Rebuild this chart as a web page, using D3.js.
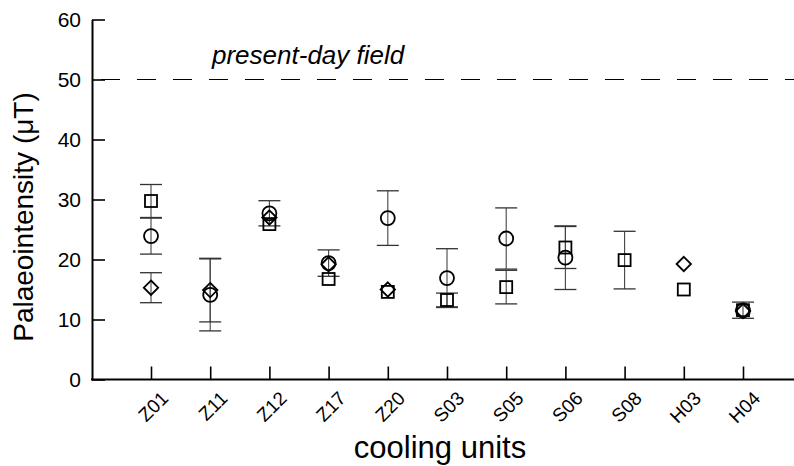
<!DOCTYPE html>
<html>
<head>
<meta charset="utf-8">
<script src="https://cdn.jsdelivr.net/npm/d3@7"></script>
<style>
  html, body { margin: 0; padding: 0; background: #fff; }
  svg { display: block; font-family: "Liberation Sans", Arial, Helvetica, sans-serif; }
</style>
</head>
<body>
<svg id="chart" width="794" height="466"></svg>
<script>
const units = ["Z01","Z11","Z12","Z17","Z20","S03","S05","S06","S08","H03","H04"];
const squares    = [29.75, null, 25.9, 16.75, 14.6, 13.25, 15.4, 22.0, 19.9, 15.0, 11.55];
const squareErr  = [2.75, null, null, null, null, 1.15, 2.8, 3.5, 4.8, null, 1.35];
const circles    = [23.9, 14.1, 27.7, 19.4, 26.9, 16.9, 23.5, 20.3, null, null, 11.5];
const circleErr  = [3.0, 6.0, 2.1, 2.2, 4.55, 4.9, 5.1, 5.3, null, null, null];
const diamonds   = [15.3, 14.9, 27.0, 19.2, 15.0, null, null, null, null, 19.25, 11.4];
const diamondErr = [2.5, 5.3, null, null, null, null, null, null, null, null, null];
const yTicks = [0, 10, 20, 30, 40, 50, 60];
const presentDay = 50;

const svg = d3.select("#chart");
const x0 = 92, xRight = 794;
const x = d3.scalePoint().domain(units).range([151, 743]);
const y = d3.scaleLinear().domain([0, 60]).range([379.5, 19.5]);

// present-day field dashed line
svg.append("line")
  .attr("x1", 101).attr("x2", xRight)
  .attr("y1", y(presentDay)).attr("y2", y(presentDay))
  .attr("stroke", "#000").attr("stroke-width", 1.2)
  .attr("stroke-dasharray", "19,17");
svg.append("text")
  .attr("x", 212).attr("y", 64)
  .attr("font-size", 26).attr("font-style", "italic")
  .text("present-day field");

// Y axis
const yAxis = d3.axisLeft(y).tickValues(yTicks).tickSizeInner(-13).tickSizeOuter(0).tickPadding(11);
const gy = svg.append("g").attr("transform", `translate(${x0},0)`).call(yAxis);
gy.select(".domain").attr("stroke-width", 2);
gy.selectAll(".tick line").attr("stroke-width", 1.6);
gy.selectAll(".tick text").attr("font-size", 21).attr("fill", "#000")
  .attr("font-family", "'Liberation Sans', Arial, sans-serif");

// X axis
const xAxis = d3.axisBottom(x).tickSizeInner(-13).tickSizeOuter(0).tickPadding(0);
const gx = svg.append("g").attr("transform", `translate(0,${y(0)})`).call(xAxis);
gx.select(".domain").remove();
gx.selectAll(".tick line").attr("stroke-width", 1.6);
gx.selectAll(".tick text")
  .attr("y", null).attr("dy", null)
  .attr("text-anchor", "end")
  .attr("transform", "translate(18,20) rotate(-45)")
  .attr("font-size", 19).attr("fill", "#000")
  .attr("font-family", "'Liberation Sans', Arial, sans-serif");
svg.append("line")
  .attr("x1", x0 - 1).attr("x2", xRight)
  .attr("y1", y(0)).attr("y2", y(0))
  .attr("stroke", "#000").attr("stroke-width", 2);

// axis titles
svg.append("text")
  .attr("x", 440).attr("y", 458)
  .attr("text-anchor", "middle").attr("font-size", 31)
  .text("cooling units");
svg.append("text")
  .attr("transform", "translate(33,217) rotate(-90)")
  .attr("text-anchor", "middle").attr("font-size", 28)
  .text("Palaeointensity (\u03bcT)");

// build series
const series = [
  { vals: squares, errs: squareErr, shape: "square" },
  { vals: circles, errs: circleErr, shape: "circle" },
  { vals: diamonds, errs: diamondErr, shape: "diamond" }
];

const errG = svg.append("g");
const capW = 11;
series.forEach(s => {
  const pts = units.map((u, i) => ({ u, v: s.vals[i], e: s.errs[i] }))
    .filter(d => d.v != null && d.e != null);
  const g = errG.selectAll(null).data(pts).enter().append("g");
  g.append("line")
    .attr("x1", d => x(d.u)).attr("x2", d => x(d.u))
    .attr("y1", d => y(d.v + d.e)).attr("y2", d => y(d.v - d.e))
    .attr("stroke", "#444").attr("stroke-width", 1.1);
  [1, -1].forEach(sg => {
    g.append("line")
      .attr("x1", d => x(d.u) - capW).attr("x2", d => x(d.u) + capW)
      .attr("y1", d => y(d.v + sg * d.e)).attr("y2", d => y(d.v + sg * d.e))
      .attr("stroke", "#333").attr("stroke-width", 1.3);
  });
});

const markG = svg.append("g");
series.forEach(s => {
  const pts = units.map((u, i) => ({ u, v: s.vals[i] })).filter(d => d.v != null);
  const sel = markG.selectAll(null).data(pts).enter();
  if (s.shape === "square") {
    sel.append("rect")
      .attr("x", d => x(d.u) - 6).attr("y", d => y(d.v) - 6)
      .attr("width", 12).attr("height", 12);
  } else if (s.shape === "circle") {
    sel.append("circle")
      .attr("cx", d => x(d.u)).attr("cy", d => y(d.v)).attr("r", 7);
  } else {
    sel.append("path")
      .attr("d", d => {
        const cx = x(d.u), cy = y(d.v), r = 7.2;
        return `M${cx},${cy - r}L${cx + r},${cy}L${cx},${cy + r}L${cx - r},${cy}Z`;
      });
  }
});
markG.selectAll("rect,circle,path")
  .attr("fill", "none").attr("stroke", "#000").attr("stroke-width", 1.8);
</script>
</body>
</html>
